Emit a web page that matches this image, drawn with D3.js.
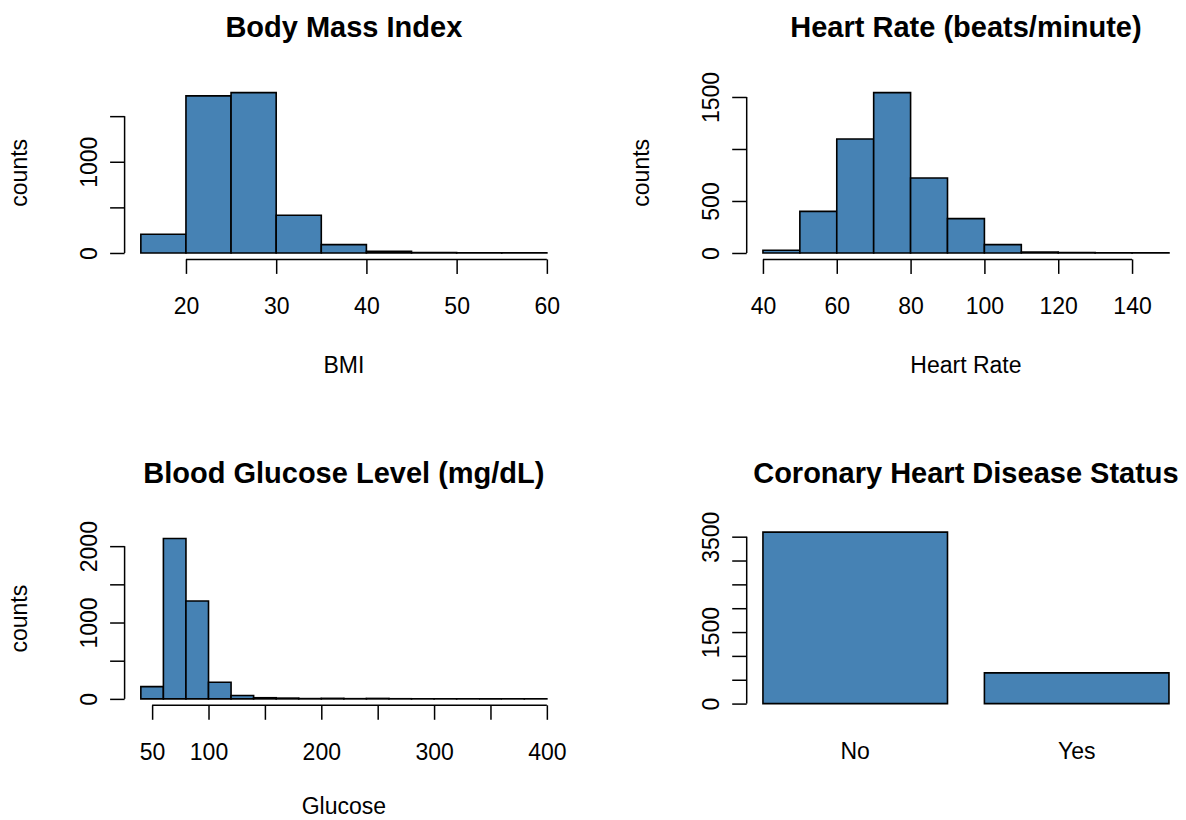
<!DOCTYPE html>
<html lang="en">
<head>
<meta charset="UTF-8">
<title>Framingham variables</title>
<script src="https://d3js.org/d3.v7.min.js"></script>
<style>
body{margin:0;background:#fff;}
svg text{font-family:"Liberation Sans",Arial,Helvetica,sans-serif;fill:#000;}
.title{font-size:29px;font-weight:bold;}
.tick text,.axis-title{font-size:23px;}
.bar{fill:steelblue;stroke:#000;stroke-width:1.6px;}
.axis path,.axis line{stroke:#000;stroke-width:1.5px;fill:none;}
</style>
</head>
<body>
<div id="chart"></div>
<script>
// ---- data ----
// Body Mass Index
var bmiBreaks = [15,20,25,30,35,40,45,50,55,60];
var bmiCounts = [205,1722,1758,414,92,18,4,3,2];
var bmiXTicks = [20,30,40,50,60];
var bmiYTicks = [0,500,1000,1500];
var bmiYLabels = [0,1000];

// Heart rate
var hrBreaks = [40,50,60,70,80,90,100,110,120,130,140,150];
var hrCounts = [26,400,1096,1542,721,330,80,10,4,2,1];
var hrXTicks = [40,60,80,100,120,140];
var hrYTicks = [0,500,1000,1500];
var hrYLabels = [0,500,1500];

// Glucose
var gluBreaks = [40,60,80,100,120,140,160,180,200,220,240,260,280,300,320,340,360,380,400];
var gluCounts = [161,2100,1281,218,44,15,10,4,7,3,6,2,1,1,1,0,1,1];
var gluXTicks = [50,100,150,200,250,300,350,400];
var gluXLabels = [50,100,200,300,400];
var gluYTicks = [0,500,1000,1500,2000];
var gluYLabels = [0,1000,2000];

// CHD status
var chdCats = ["No","Yes"];
var chdValues = [3596,644];
var chdYTicks = [0,500,1000,1500,2000,2500,3000,3500];
var chdYLabels = [0,1500,3500];

// ---- layout ----
var width = 1186, height = 820;
var colX = [124.6, 746.7];
var rowY = [86.2, 532.1];
var xlabOff = [106, 101];   // bottom row sits close to the page edge
var plotW = 438.5, plotH = 173.2;
var tickLen = 14.5;

var svg = d3.select("#chart").append("svg")
    .attr("width", width)
    .attr("height", height);

// bar outline as a path so empty bins still show as a line
function barPath(x0, x1, y0, y1){
    return "M" + x0 + "," + y0 + "V" + y1 + "H" + x1 + "V" + y0 + "Z";
}

function yAxis(g, y, ticks, labels){
    var ax = d3.axisLeft(y).tickValues(ticks).tickSize(tickLen).tickSizeOuter(0)
        .tickFormat(function(d){ return labels.indexOf(d) >= 0 ? d : ""; });
    var a = g.append("g").attr("class","axis").call(ax);
    a.select(".domain").attr("d", "M0," + y(ticks[0]) + "V" + y(ticks[ticks.length-1]));
    a.selectAll(".tick text")
        .attr("x", null).attr("dy", "0.35em")
        .attr("text-anchor", "middle")
        .attr("transform", "translate(-36,0) rotate(-90)");
}

function xAxis(g, x, ticks, labels){
    var ax = d3.axisBottom(x).tickValues(ticks).tickSize(tickLen).tickSizeOuter(0)
        .tickFormat(function(d){ return labels.indexOf(d) >= 0 ? d : ""; });
    var a = g.append("g").attr("class","axis")
        .attr("transform", "translate(0," + plotH + ")")
        .call(ax);
    a.select(".domain").attr("d", "M" + x(ticks[0]) + ",0H" + x(ticks[ticks.length-1]));
    a.selectAll(".tick text").attr("y", 47).attr("dy", "0.35em");
}

function labels(g, row, title, xlab, ylab){
    g.append("text").attr("class","title")
        .attr("x", plotW/2).attr("y", -59).attr("dy","0.35em")
        .attr("text-anchor","middle").text(title);
    if (xlab) g.append("text").attr("class","axis-title")
        .attr("x", plotW/2).attr("y", plotH + xlabOff[row]).attr("dy","0.35em")
        .attr("text-anchor","middle").text(xlab);
    if (ylab) g.append("text").attr("class","axis-title")
        .attr("transform", "translate(-106," + (plotH/2) + ") rotate(-90)")
        .attr("dy","0.35em").attr("text-anchor","middle").text(ylab);
}

function histPanel(col, row, breaks, counts, xTicks, xLabels, yTicks, yLabels, title, xlab){
    var g = svg.append("g").attr("transform", "translate(" + colX[col] + "," + rowY[row] + ")");
    var lo = breaks[0], hi = breaks[breaks.length-1], pad = (hi - lo) * 0.04;
    var x = d3.scaleLinear().domain([lo - pad, hi + pad]).range([0, plotW]);
    var mx = d3.max(counts);
    var y = d3.scaleLinear().domain([-mx*0.04, mx*1.04]).range([plotH, 0]);

    g.selectAll("path.bar").data(counts).enter().append("path")
        .attr("class","bar")
        .attr("d", function(d,i){ return barPath(x(breaks[i]), x(breaks[i+1]), y(0), y(d)); });

    xAxis(g, x, xTicks, xLabels);
    yAxis(g, y, yTicks, yLabels);
    labels(g, row, title, xlab, "counts");
}

histPanel(0, 0, bmiBreaks, bmiCounts, bmiXTicks, bmiXTicks, bmiYTicks, bmiYLabels, "Body Mass Index", "BMI");
histPanel(1, 0, hrBreaks, hrCounts, hrXTicks, hrXTicks, hrYTicks, hrYLabels, "Heart Rate (beats/minute)", "Heart Rate");
histPanel(0, 1, gluBreaks, gluCounts, gluXTicks, gluXLabels, gluYTicks, gluYLabels, "Blood Glucose Level (mg/dL)", "Glucose");

// bar chart of CHD status (barplot: width 1, space 0.2)
(function(){
    var g = svg.append("g").attr("transform", "translate(" + colX[1] + "," + rowY[1] + ")");
    var x = d3.scaleLinear().domain([0.112, 2.488]).range([0, plotW]);
    var mx = d3.max(chdValues);
    var y = d3.scaleLinear().domain([-mx*0.01, mx]).range([plotH, 0]);
    var left = function(i){ return 0.2 + i*1.2; };

    g.selectAll("path.bar").data(chdValues).enter().append("path")
        .attr("class","bar")
        .attr("d", function(d,i){ return barPath(x(left(i)), x(left(i)+1), y(0), y(d)); });

    g.selectAll("text.cat").data(chdCats).enter().append("text")
        .attr("class","axis-title cat")
        .attr("x", function(d,i){ return x(left(i)+0.5); })
        .attr("y", plotH + 46).attr("dy","0.35em")
        .attr("text-anchor","middle").text(function(d){ return d; });

    yAxis(g, y, chdYTicks, chdYLabels);
    labels(g, 1, "Coronary Heart Disease Status", null, null);
})();
</script>
</body>
</html>
